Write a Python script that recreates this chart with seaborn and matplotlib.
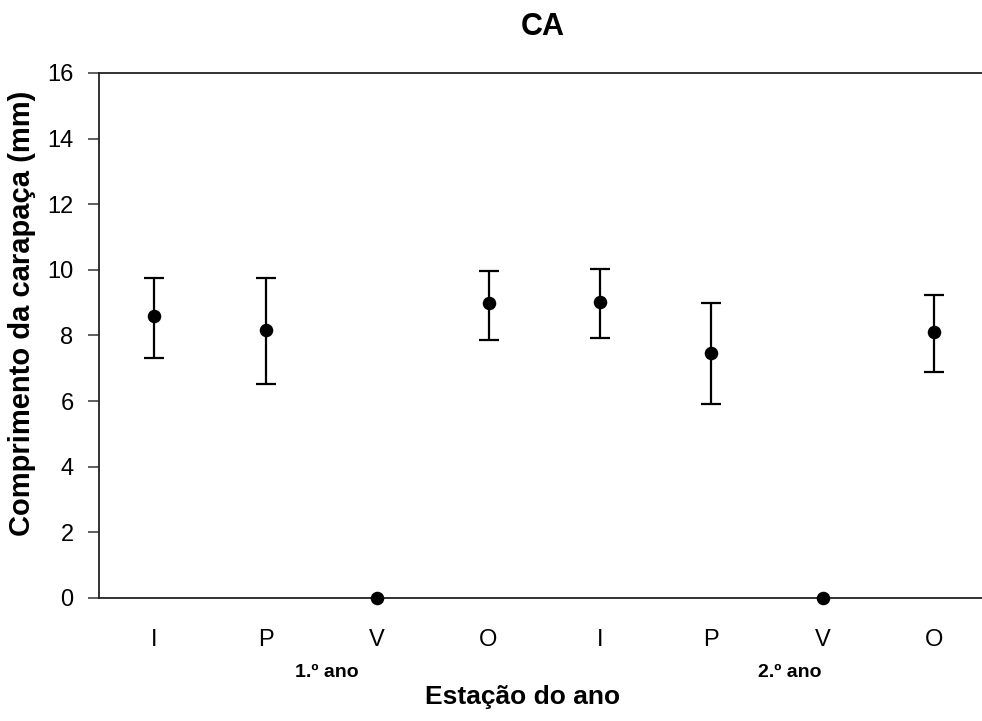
import numpy as np
import pandas as pd
import matplotlib
matplotlib.use("Agg")
import matplotlib.pyplot as plt
import seaborn as sns

# ============================
# DADOS
# ============================
estacoes = ["I", "P", "V", "O", "I", "P", "V", "O"]
medias = [8.58, 8.17, 0.0, 8.98, 9.03, 7.48, 0.0, 8.12]
lim_inf = [7.30, 6.53, np.nan, 7.87, 7.91, 5.91, np.nan, 6.89]
lim_sup = [9.74, 9.74, np.nan, 9.98, 10.03, 9.00, np.nan, 9.23]
anos = ["1.º ano", "2.º ano"]
pos_anos = [1.55, 5.7]
yticks = [0, 2, 4, 6, 8, 10, 12, 14, 16]

df = pd.DataFrame({"pos": np.arange(len(estacoes)), "media": medias,
                   "inf": lim_inf, "sup": lim_sup})

# ============================
# FIGURA
# ============================
sns.set_style("white")
plt.rcParams["font.family"] = ["Liberation Sans", "DejaVu Sans"]
plt.rcParams["text.color"] = "black"
plt.rcParams["xtick.color"] = "black"
plt.rcParams["ytick.color"] = "black"

fig = plt.figure(figsize=(9.82, 7.21), dpi=100)
ax = fig.add_axes([0.1004, 0.1706, 0.9076, 0.7282])

barras = df.dropna()
ax.errorbar(barras["pos"], barras["media"],
            yerr=[barras["media"] - barras["inf"], barras["sup"] - barras["media"]],
            fmt="none", ecolor="black", elinewidth=1.6, capsize=7, capthick=1.6, zorder=2)
sns.scatterplot(data=df, x="pos", y="media", ax=ax, color="black", s=95,
                edgecolor="black", linewidth=0, zorder=3, legend=False, clip_on=False)

ax.set_xlim(-0.5, len(estacoes) - 0.5)
ax.set_ylim(0, 16)
ax.set_yticks(yticks)
ax.set_xticks(df["pos"])
ax.set_xticklabels(estacoes)
ax.set_xticks(np.arange(-0.5, len(estacoes), 1.0), minor=True)

ax.tick_params(axis="x", which="major", length=0, pad=22, labelsize=17)
ax.tick_params(axis="x", which="minor", direction="out", length=7, width=1.1, color="#555555")
ax.tick_params(axis="y", direction="out", length=8, width=1.1, color="#333333", labelsize=17, pad=10, left=True)

for lado in ["left", "bottom", "top"]:
    ax.spines[lado].set_visible(True)
    ax.spines[lado].set_color("#222222")
    ax.spines[lado].set_linewidth(1.3)
ax.spines["right"].set_visible(False)

ax.set_xlabel("")
ax.set_ylabel("")

# rótulos dos anos
for p, a in zip(pos_anos, anos):
    ax.text(p, -0.141, a, transform=ax.get_xaxis_transform(), ha="center", va="center",
            fontsize=14, fontweight="bold")

fig.text(523 / 982, 1 - 697 / 721, "Estação do ano", ha="center", va="center",
         fontsize=19, fontweight="bold")
fig.text(22 / 982, 1 - 313 / 721, "Comprimento da carapaça (mm)", ha="center", va="center",
         rotation=90, fontsize=21, fontweight="bold")
fig.text(543 / 982, 1 - 27 / 721, "CA", ha="center", va="center",
         fontsize=22, fontweight="bold")

fig.savefig("out.png", dpi=100)
